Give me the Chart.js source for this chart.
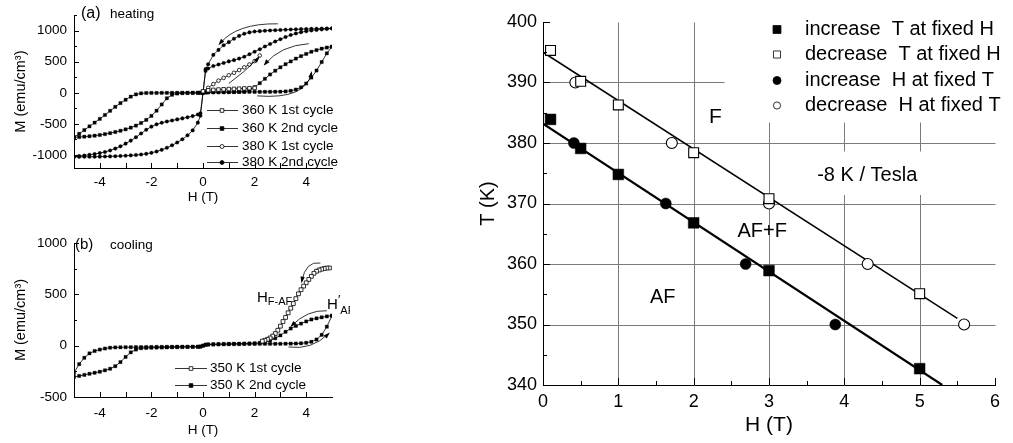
<!DOCTYPE html>
<html>
<head>
<meta charset="utf-8">
<script src="https://cdn.jsdelivr.net/npm/chart.js@4.4.0/dist/chart.umd.min.js"></script>
<style>
  body { margin: 0; background: #fff; }
  #wrap { position: relative; width: 1013px; height: 443px; overflow: hidden; background: #fff; }
  canvas { position: absolute; }
</style>
</head>
<body>
<div id="wrap">
  <canvas id="heat" width="350" height="210" style="left:0px;top:0px"></canvas>
  <canvas id="cool" width="350" height="223" style="left:0px;top:220px"></canvas>
  <canvas id="phase" width="543" height="443" style="left:470px;top:0px"></canvas>
</div>
<script>
const FONT = '"Liberation Sans", Arial, sans-serif';

// field grid (T) shared by the 2nd-cycle branches of panels (a) and (b)
const fieldGrid = [-5, -4.8, -4.6, -4.4, -4.2, -4, -3.8, -3.6, -3.4, -3.2, -3, -2.8, -2.6, -2.4, -2.2,
  -2, -1.8, -1.6, -1.4, -1.2, -1, -0.8, -0.6, -0.4, -0.2, -0.1, 0, 0.1, 0.2, 0.4, 0.6, 0.8, 1,
  1.2, 1.4, 1.6, 1.8, 2, 2.2, 2.4, 2.6, 2.8, 3, 3.2, 3.4, 3.6, 3.8, 4, 4.2, 4.4, 4.6, 4.8, 5];

// (a) heating, M in emu/cm3
const m360up = [-715, -712, -706, -699, -690, -679, -665, -649, -631, -611, -588, -561, -528, -486, -436,
  -372, -288, -188, -88, -32, -12, -6, -4, -3, -2, -1, 2, 6, 8, 10, 11, 12, 13,
  13, 14, 14, 15, 15, 15, 16, 16, 17, 18, 22, 32, 52, 88, 150, 245, 358, 495, 635, 742];
const m360down = [-715, -660, -600, -540, -480, -420, -357, -290, -226, -166, -112, -62, -26, -9, -3,
  -2, -2, -1, -1, 0, 0, 1, 1, 2, 2, 3, 4, 5, 6, 7, 8, 9, 10,
  12, 15, 20, 40, 90, 155, 225, 295, 355, 410, 460, 505, 550, 590, 625, 660, 686, 710, 728, 742];
const m380up = [-1032, -1031, -1030, -1029, -1028, -1027, -1025, -1023, -1020, -1016, -1012, -1007, -1001, -993, -982,
  -966, -945, -918, -885, -845, -800, -748, -685, -605, -480, -370, 0, 350, 390, 430, 455, 480, 505,
  525, 550, 580, 620, 660, 700, 745, 785, 825, 862, 897, 930, 955, 975, 990, 1003, 1012, 1020, 1028, 1035];
const m380down = [-1030, -1018, -1008, -997, -985, -970, -952, -928, -898, -862, -818, -770, -715, -655, -595,
  -545, -508, -482, -462, -445, -428, -412, -395, -375, -350, -330, 0, 380, 460, 610, 690, 765, 815,
  870, 915, 950, 972, 985, 992, 998, 1003, 1007, 1011, 1015, 1018, 1021, 1024, 1027, 1029, 1031, 1033, 1035, 1037];
const field360first = [0, 0.2, 0.4, 0.6, 0.8, 1, 1.2, 1.4, 1.6, 1.8, 2];
const m360first = [25, 40, 47, 52, 56, 60, 63, 66, 70, 74, 78];
const field380first = [0, 0.2, 0.4, 0.6, 0.8, 1, 1.2, 1.4, 1.6, 1.8, 2, 2.2];
const m380first = [20, 80, 140, 195, 240, 282, 322, 366, 410, 455, 510, 600];

// (b) cooling
const m350up = [-305, -295, -285, -274, -264, -254, -240, -225, -200, -160, -110, -65, -38, -25, -22,
  -20, -19, -18, -17, -16, -15, -14, -13, -12, -11, -10, 0, 8, 10, 11, 12, 13, 14,
  15, 15, 16, 17, 17, 18, 18, 18, 18, 18, 19, 20, 21, 23, 28, 38, 60, 105, 185, 292];
const m350down = [-265, -180, -118, -75, -52, -38, -28, -20, -17, -16, -15, -15, -14, -14, -13,
  -13, -12, -12, -11, -11, -10, -10, -10, -10, -10, -8, 0, 10, 13, 15, 16, 17, 18,
  19, 20, 21, 22, 24, 28, 35, 50, 72, 100, 135, 167, 192, 215, 236, 255, 266, 276, 285, 292];
const field350first = [4.9, 4.8, 4.7, 4.6, 4.5, 4.4, 4.3, 4.2, 4.1, 4, 3.9, 3.8, 3.7, 3.6, 3.5,
  3.4, 3.3, 3.2, 3.1, 3, 2.9, 2.8, 2.7, 2.6, 2.5, 2.4, 2.3];
const m350first = [757, 756, 752, 745, 737, 725, 705, 675, 645, 612, 580, 545, 505, 458, 410,
  365, 320, 275, 235, 190, 150, 118, 93, 75, 62, 52, 44];

// phase diagram, T (K) against H (T)
const hIncT = [0.1, 0.5, 1, 2, 3, 5];
const tIncT = [383.9, 379.1, 374.8, 366.8, 358.9, 342.7];
const hDecT = [0.1, 0.5, 1, 2, 3, 5];
const tDecT = [395.3, 390.2, 386.3, 378.4, 370.8, 355.1];
const hIncH = [0.41, 1.63, 2.69, 3.88];
const tIncH = [380, 370, 360, 350];
const hDecH = [0.43, 1.71, 3.0, 4.31, 5.59];
const tDecH = [390, 380, 370, 360, 350];
const fitUpperH = [0, 5.5];
const fitUpperT = [395, 351];
const fitLowerH = [0, 5.3];
const fitLowerT = [383.2, 340];

// tick labels and tick marks
const hTicksLoop = [-4, -2, 0, 2, 4];
const hMarksLoop = [-4, -3, -2, -1, 0, 1, 2, 3, 4];
const mTicksHeat = [-1000, -500, 0, 500, 1000];
const mMarksHeat = [-1000, -750, -500, -250, 0, 250, 500, 750, 1000, 1250];
const mTicksCool = [-500, 0, 500, 1000];
const mMarksCool = [-500, -250, 0, 250, 500, 750, 1000];
const hTicksPhase = [0, 1, 2, 3, 4, 5, 6];
const hMarksPhase = [0.5, 1, 1.5, 2, 2.5, 3, 3.5, 4, 4.5, 5, 5.5, 6];
const tTicksPhase = [340, 350, 360, 370, 380, 390, 400];
const tMarksPhase = [345, 350, 355, 360, 365, 370, 375, 380, 385, 390, 395, 400];

function pts(xs, ys) {
  return xs.map((x, i) => ({x: x, y: ys[i]}));
}

function series(label, xs, ys, style, r, filled) {
  return {
    label: label, data: pts(xs, ys), showLine: true,
    borderColor: '#000', borderWidth: 0.8,
    pointStyle: style, pointRadius: r,
    pointBackgroundColor: filled ? '#000' : '#fff',
    pointBorderColor: '#000', pointBorderWidth: filled ? 0.3 : 0.8
  };
}

function axis(o) {
  return {
    type: 'linear', min: o.min, max: o.max, bounds: 'data',
    afterBuildTicks: s => { s.ticks = o.ticks.map(v => ({value: v})); },
    afterFit: s => { if (o.width) s.width = o.width; if (o.height) s.height = o.height; },
    grid: {display: false, drawTicks: false},
    border: {display: true, color: '#000', width: 1},
    ticks: {color: '#000', font: {family: FONT, size: o.size}, padding: o.pad,
      autoSkip: false, maxRotation: 0, callback: v => String(v)},
    title: {display: true, text: o.title, color: '#000',
      font: {family: FONT, size: o.titleSize}, padding: o.titlePad}
  };
}

function marker(ctx, style, x, y, r, filled) {
  ctx.beginPath();
  if (style === 'rect') {
    const s = r * Math.SQRT1_2;
    ctx.rect(x - s, y - s, 2 * s, 2 * s);
  } else {
    ctx.arc(x, y, r, 0, Math.PI * 2);
  }
  ctx.fillStyle = filled ? '#000' : '#fff';
  ctx.fill();
  ctx.stroke();
}

function drawParts(ctx, parts, x, y, align) {
  let total = 0;
  parts.forEach(p => { ctx.font = p[1] + 'px ' + FONT; total += ctx.measureText(p[0]).width; });
  let cx = align === 'center' ? x - total / 2 : x;
  parts.forEach(p => {
    ctx.font = p[1] + 'px ' + FONT;
    ctx.fillText(p[0], cx, y + (p[2] || 0));
    cx += ctx.measureText(p[0]).width;
  });
}

const decor = {
  id: 'decor',
  beforeDatasetsDraw(chart, args, o) {
    const {ctx, scales: {x, y}} = chart;
    ctx.save();
    ctx.strokeStyle = '#7a7a7a';
    ctx.lineWidth = 1;
    ctx.beginPath();
    (o.grid || []).forEach(([h0, v0, h1, v1]) => {
      const x0 = Math.round(x.getPixelForValue(h0)) + 0.5, x1 = Math.round(x.getPixelForValue(h1)) + 0.5;
      const y0 = Math.round(y.getPixelForValue(v0)) + 0.5, y1 = Math.round(y.getPixelForValue(v1)) + 0.5;
      ctx.moveTo(x0, y0);
      ctx.lineTo(x1, y1);
    });
    ctx.stroke();
    ctx.fillStyle = '#fff';
    (o.blank || []).forEach(([h0, v0, h1, v1]) => {
      const x0 = x.getPixelForValue(h0), x1 = x.getPixelForValue(h1);
      const y0 = y.getPixelForValue(v0), y1 = y.getPixelForValue(v1);
      ctx.fillRect(x0, y1, x1 - x0, y0 - y1);
    });
    ctx.fillStyle = '#000';
    ctx.textBaseline = 'middle';
    (o.labels || []).forEach(t => {
      drawParts(ctx, t.parts, x.getPixelForValue(t.h), y.getPixelForValue(t.v), t.align);
    });
    ctx.restore();
  },
  afterDatasetsDraw(chart, args, o) {
    const {ctx, chartArea: a, scales: {x, y}} = chart;
    ctx.save();
    ctx.strokeStyle = '#000';
    ctx.fillStyle = '#000';
    ctx.lineWidth = 1;
    ctx.beginPath();
    (o.xMarks || []).forEach(([v, len]) => {
      const px = Math.round(x.getPixelForValue(v)) + 0.5;
      ctx.moveTo(px, a.bottom);
      ctx.lineTo(px, a.bottom - len);
    });
    (o.yMarks || []).forEach(([v, len]) => {
      const py = Math.round(y.getPixelForValue(v)) + 0.5;
      ctx.moveTo(a.left, py);
      ctx.lineTo(a.left + len, py);
    });
    ctx.stroke();

    // curved arrows: start, control, end in data units
    ctx.lineWidth = 0.8;
    (o.arrows || []).forEach(([h0, v0, hc, vc, h1, v1]) => {
      const p0 = [x.getPixelForValue(h0), y.getPixelForValue(v0)];
      const pc = [x.getPixelForValue(hc), y.getPixelForValue(vc)];
      const p1 = [x.getPixelForValue(h1), y.getPixelForValue(v1)];
      ctx.beginPath();
      ctx.moveTo(p0[0], p0[1]);
      ctx.quadraticCurveTo(pc[0], pc[1], p1[0], p1[1]);
      ctx.stroke();
      const ang = Math.atan2(p1[1] - pc[1], p1[0] - pc[0]);
      ctx.beginPath();
      ctx.moveTo(p1[0] + 2 * Math.cos(ang), p1[1] + 2 * Math.sin(ang));
      ctx.lineTo(p1[0] - 5 * Math.cos(ang - 0.45), p1[1] - 5 * Math.sin(ang - 0.45));
      ctx.lineTo(p1[0] - 5 * Math.cos(ang + 0.45), p1[1] - 5 * Math.sin(ang + 0.45));
      ctx.closePath();
      ctx.fill();
    });

    // legend rows and panel captions in canvas pixels
    ctx.textBaseline = 'middle';
    (o.legend || []).forEach(e => {
      ctx.lineWidth = 0.8;
      ctx.strokeStyle = '#000';
      if (e.x1 > e.x0) {
        ctx.beginPath();
        ctx.moveTo(e.x0, e.y + 0.5);
        ctx.lineTo(e.x1, e.y + 0.5);
        ctx.stroke();
      }
      marker(ctx, e.style, e.mx, e.y + 0.5, e.r, e.fill);
      ctx.fillStyle = '#000';
      ctx.font = e.size + 'px ' + FONT;
      ctx.fillText(e.label, e.tx, e.y);
    });
    ctx.fillStyle = '#000';
    (o.captions || []).forEach(t => drawParts(ctx, t.parts, t.x, t.y, 'left'));
    ctx.restore();
  }
};
Chart.register(decor);

const base = {
  responsive: false, animation: false, devicePixelRatio: 1, events: [],
  plugins: {legend: {display: false}, tooltip: {enabled: false}}
};

// (a) heating
new Chart(document.getElementById('heat'), {
  type: 'scatter',
  data: {datasets: [
    series('360 K 1st cycle', field360first, m360first, 'rect', 2.5, false),
    series('380 K 1st cycle', field380first, m380first, 'circle', 1.8, false),
    series('360 K 2nd cycle', fieldGrid, m360up, 'rect', 2.3, true),
    series('360 K 2nd cycle', fieldGrid, m360down, 'rect', 2.3, true),
    series('380 K 2nd cycle', fieldGrid, m380up, 'circle', 1.8, true),
    series('380 K 2nd cycle', fieldGrid, m380down, 'circle', 1.8, true)
  ]},
  options: Object.assign({}, base, {
    layout: {padding: {left: 0, right: 18, top: 13, bottom: 0}},
    scales: {
      x: axis({min: -5, max: 5, ticks: hTicksLoop, height: 42, size: 13.5, pad: 6,
        title: 'H (T)', titleSize: 13.5, titlePad: {top: 0, bottom: 5}}),
      y: axis({min: -1210, max: 1250, ticks: mTicksHeat, width: 74, size: 13.5, pad: 7,
        title: 'M (emu/cm³)', titleSize: 14.5, titlePad: {top: 12, bottom: 0}})
    },
    plugins: Object.assign({}, base.plugins, {decor: {
      xMarks: hMarksLoop.map(v => [v, 5]),
      yMarks: mMarksHeat.map(v => [v, v % 500 === 0 ? 5 : 3]),
      arrows: [
        [2.9, 1110, 1.3, 1120, 0.65, 790],
        [1.0, 150, 1.6, 330, 2.15, 560],
        [4.1, 790, 3.0, 760, 2.4, 460],
        [2.1, -50, 4.0, -110, 4.2, 320]
      ],
      legend: [
        {x0: 207, x1: 238, mx: 222, y: 110, style: 'rect', r: 2.6, fill: false, label: '360 K 1st cycle', tx: 242, size: 13.5},
        {x0: 207, x1: 238, mx: 222, y: 128, style: 'rect', r: 2.6, fill: true, label: '360 K 2nd cycle', tx: 242, size: 13.5},
        {x0: 207, x1: 238, mx: 222, y: 146, style: 'circle', r: 2, fill: false, label: '380 K 1st cycle', tx: 242, size: 13.5},
        {x0: 207, x1: 238, mx: 222, y: 162, style: 'circle', r: 2, fill: true, label: '380 K 2nd cycle', tx: 242, size: 13.5}
      ],
      captions: [
        {x: 81, y: 14, parts: [['(a)', 16, 0]]},
        {x: 110, y: 14, parts: [['heating', 13.5, 0]]}
      ]
    }})
  })
});

// (b) cooling
new Chart(document.getElementById('cool'), {
  type: 'scatter',
  data: {datasets: [
    series('350 K 1st cycle', field350first, m350first, 'rect', 2.7, false),
    series('350 K 2nd cycle', fieldGrid, m350up, 'rect', 2.3, true),
    series('350 K 2nd cycle', fieldGrid, m350down, 'rect', 2.3, true)
  ]},
  options: Object.assign({}, base, {
    layout: {padding: {left: 0, right: 18, top: 23, bottom: 0}},
    scales: {
      x: axis({min: -5, max: 5, ticks: hTicksLoop, height: 46, size: 13.5, pad: 8,
        title: 'H (T)', titleSize: 13.5, titlePad: {top: 0, bottom: 5}}),
      y: axis({min: -500, max: 1000, ticks: mTicksCool, width: 74, size: 13.5, pad: 7,
        title: 'M (emu/cm³)', titleSize: 14.5, titlePad: {top: 12, bottom: 0}})
    },
    plugins: Object.assign({}, base.plugins, {decor: {
      xMarks: hMarksLoop.map(v => [v, 5]),
      yMarks: mMarksCool.map(v => [v, v % 500 === 0 ? 5 : 3]),
      arrows: [
        [4.55, 805, 3.98, 828, 3.83, 628],
        [4.8, 340, 4.04, 350, 3.44, 195],
        [3.31, -13, 4.21, -45, 4.86, 115]
      ],
      labels: [
        {h: 2.09, v: 470, align: 'left', parts: [['H', 15, 0], ['F-AF', 11, 5]]},
        {h: 4.81, v: 395, align: 'left', parts: [['H', 15, 0], ['\u2032', 13, -5], ['AF-F', 11, 6]]}
      ],
      legend: [
        {x0: 175, x1: 207, mx: 191, y: 148, style: 'rect', r: 2.6, fill: false, label: '350 K 1st cycle', tx: 210, size: 13.5},
        {x0: 175, x1: 207, mx: 191, y: 165, style: 'rect', r: 2.6, fill: true, label: '350 K 2nd cycle', tx: 210, size: 13.5}
      ],
      captions: [
        {x: 75, y: 25, parts: [['(b)', 15, 0]]},
        {x: 110, y: 25, parts: [['cooling', 13.5, 0]]}
      ]
    }})
  })
});

// T-H phase diagram
new Chart(document.getElementById('phase'), {
  type: 'scatter',
  data: {datasets: [
    {label: 'upper fit', data: pts(fitUpperH, fitUpperT), showLine: true, borderColor: '#000', borderWidth: 1.5, pointRadius: 0, order: 10},
    {label: 'lower fit', data: pts(fitLowerH, fitLowerT), showLine: true, borderColor: '#000', borderWidth: 2.2, pointRadius: 0, order: 10},
    {label: 'increase  T at fixed H', data: pts(hIncT, tIncT), pointStyle: 'rect', pointRadius: 7.6,
      pointBackgroundColor: '#000', pointBorderColor: '#000', pointBorderWidth: 0.5, order: 1},
    {label: 'decrease  T at fixed H', data: pts(hDecT, tDecT), pointStyle: 'rect', pointRadius: 7,
      pointBackgroundColor: '#fff', pointBorderColor: '#000', pointBorderWidth: 1.1, order: 1},
    {label: 'increase  H at fixed T', data: pts(hIncH, tIncH), pointStyle: 'circle', pointRadius: 5.5,
      pointBackgroundColor: '#000', pointBorderColor: '#000', pointBorderWidth: 0.5, order: 1},
    {label: 'decrease  H at fixed T', data: pts(hDecH, tDecH), pointStyle: 'circle', pointRadius: 5.5,
      pointBackgroundColor: '#fff', pointBorderColor: '#000', pointBorderWidth: 1.1, order: 1}
  ]},
  options: Object.assign({}, base, {
    layout: {padding: {left: 0, right: 18, top: 22, bottom: 0}},
    scales: {
      x: axis({min: 0, max: 6, ticks: hTicksPhase, height: 58, size: 18, pad: 6,
        title: 'H (T)', titleSize: 21, titlePad: {top: 0, bottom: 5}}),
      y: axis({min: 340, max: 400, ticks: tTicksPhase, width: 73, size: 18, pad: 6,
        title: 'T (K)', titleSize: 20, titlePad: {top: 6, bottom: 0}})
    },
    plugins: Object.assign({}, base.plugins, {decor: {
      grid: [
        [1, 340, 1, 400], [2, 340, 2, 400], [3, 340, 3, 383.5], [4, 340, 4, 383.5], [5, 340, 5, 383.5],
        [0, 390, 2.4, 390], [0, 380, 6, 380], [0, 370, 6, 370], [0, 360, 6, 360], [0, 350, 6, 350]
      ],
      blank: [[3.58, 371.4, 5.06, 378.6]],
      labels: [
        {h: 2.29, v: 384.3, align: 'center', parts: [['F', 21, 0]]},
        {h: 3.64, v: 374.6, align: 'left', parts: [['-8 K / Tesla', 20, 0]]},
        {h: 2.91, v: 365.3, align: 'center', parts: [['AF+F', 20, 0]]},
        {h: 1.59, v: 354.5, align: 'center', parts: [['AF', 20, 0]]}
      ],
      xMarks: hMarksPhase.map(v => [v, Number.isInteger(v) ? 7 : 4]),
      yMarks: tMarksPhase.map(v => [v, v % 10 === 0 ? 7 : 4]),
      legend: [
        {x0: 0, x1: 0, mx: 307, y: 29, style: 'rect', r: 5.6, fill: true, label: 'increase  T at fixed H', tx: 335, size: 20},
        {x0: 0, x1: 0, mx: 307, y: 54, style: 'rect', r: 5, fill: false, label: 'decrease  T at fixed H', tx: 335, size: 20},
        {x0: 0, x1: 0, mx: 307, y: 80, style: 'circle', r: 4, fill: true, label: 'increase  H at fixed T', tx: 335, size: 20},
        {x0: 0, x1: 0, mx: 307, y: 105, style: 'circle', r: 3.6, fill: false, label: 'decrease  H at fixed T', tx: 335, size: 20}
      ]
    }})
  })
});
</script>
</body>
</html>
